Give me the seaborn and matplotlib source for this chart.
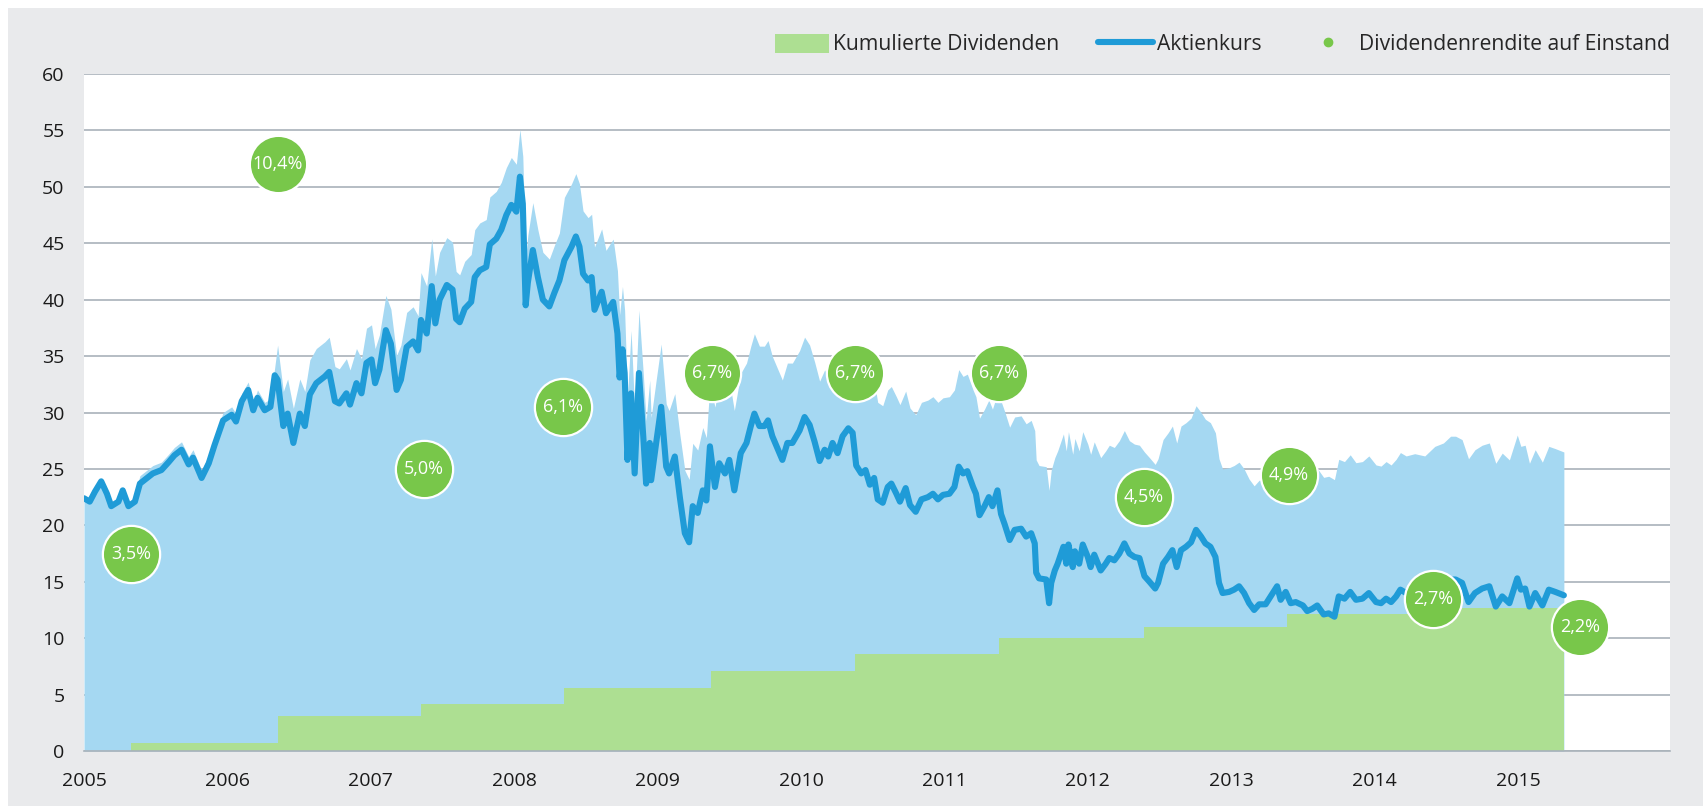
import numpy as np
import matplotlib
matplotlib.use("Agg")
import matplotlib.pyplot as plt
import seaborn as sns
from matplotlib.patches import Patch, Rectangle
from matplotlib.lines import Line2D

# Aktienkurs (Zeitpunkt als Dezimaljahr, Kurs)
kurs_t = [
    2005.0, 2005.04, 2005.077, 2005.12, 2005.16, 2005.19, 2005.24, 2005.27, 2005.31, 2005.355,
    2005.39, 2005.44, 2005.48, 2005.54, 2005.59, 2005.63, 2005.68, 2005.73, 2005.76, 2005.82,
    2005.87, 2005.91, 2005.97, 2006.03, 2006.06, 2006.10, 2006.145, 2006.18, 2006.21, 2006.26,
    2006.30, 2006.33, 2006.35, 2006.39, 2006.42, 2006.46, 2006.505, 2006.54, 2006.575, 2006.62,
    2006.68, 2006.71, 2006.75, 2006.78, 2006.83, 2006.855, 2006.90, 2006.935, 2006.97, 2007.005,
    2007.03, 2007.06, 2007.105, 2007.14, 2007.18, 2007.21, 2007.25, 2007.295, 2007.33, 2007.35,
    2007.39, 2007.425, 2007.45, 2007.48, 2007.53, 2007.57, 2007.595, 2007.62, 2007.655, 2007.70,
    2007.725, 2007.76, 2007.805, 2007.83, 2007.875, 2007.91, 2007.945, 2007.98, 2008.015, 2008.04,
    2008.06, 2008.08, 2008.095, 2008.13, 2008.165, 2008.20, 2008.245, 2008.28, 2008.315, 2008.35,
    2008.40, 2008.43, 2008.455, 2008.48, 2008.515, 2008.54, 2008.56, 2008.61, 2008.64, 2008.69,
    2008.72, 2008.735, 2008.755, 2008.77, 2008.79, 2008.815, 2008.84, 2008.87, 2008.90, 2008.92,
    2008.945, 2008.955, 2008.99, 2009.025, 2009.06, 2009.08, 2009.12, 2009.155, 2009.19, 2009.22,
    2009.245, 2009.28, 2009.315, 2009.34, 2009.365, 2009.40, 2009.43, 2009.47, 2009.50, 2009.535,
    2009.58, 2009.62, 2009.65, 2009.675, 2009.71, 2009.745, 2009.77, 2009.80, 2009.85, 2009.87,
    2009.905, 2009.94, 2009.99, 2010.025, 2010.06, 2010.095, 2010.13, 2010.165, 2010.19, 2010.22,
    2010.255, 2010.29, 2010.33, 2010.36, 2010.385, 2010.42, 2010.45, 2010.48, 2010.51, 2010.535,
    2010.57, 2010.605, 2010.63, 2010.665, 2010.69, 2010.73, 2010.76, 2010.80, 2010.84, 2010.885,
    2010.92, 2010.955, 2010.99, 2011.035, 2011.07, 2011.10, 2011.13, 2011.16, 2011.20, 2011.22,
    2011.245, 2011.28, 2011.31, 2011.335, 2011.37, 2011.395, 2011.42, 2011.455, 2011.49, 2011.535,
    2011.57, 2011.605, 2011.63, 2011.64, 2011.66, 2011.71, 2011.73, 2011.745, 2011.77, 2011.79,
    2011.83, 2011.85, 2011.865, 2011.895, 2011.91, 2011.94, 2011.965, 2012.0, 2012.02, 2012.045,
    2012.09, 2012.125, 2012.15, 2012.185, 2012.22, 2012.255, 2012.29, 2012.325, 2012.36, 2012.395,
    2012.43, 2012.47, 2012.49, 2012.525, 2012.56, 2012.59, 2012.62, 2012.65, 2012.685, 2012.72,
    2012.755, 2012.79, 2012.82, 2012.855, 2012.89, 2012.915, 2012.94, 2012.985, 2013.02, 2013.055,
    2013.09, 2013.125, 2013.16, 2013.195, 2013.24, 2013.275, 2013.32, 2013.345, 2013.38, 2013.415,
    2013.45, 2013.50, 2013.53, 2013.565, 2013.60, 2013.645, 2013.68, 2013.72, 2013.75, 2013.79,
    2013.83, 2013.87, 2013.915, 2013.96, 2014.01, 2014.045, 2014.08, 2014.115, 2014.15, 2014.18,
    2014.22, 2014.28, 2014.35, 2014.42, 2014.48, 2014.53, 2014.565, 2014.61, 2014.655, 2014.70,
    2014.75, 2014.80, 2014.845, 2014.89, 2014.94, 2014.995, 2015.02, 2015.05, 2015.08, 2015.12,
    2015.17, 2015.215, 2015.26, 2015.32,
]
kurs = [
    22.4, 22.1, 23.0, 23.9, 22.8, 21.7, 22.1, 23.1, 21.7, 22.1,
    23.7, 24.2, 24.6, 24.9, 25.6, 26.2, 26.7, 25.4, 26.0, 24.2,
    25.5, 27.1, 29.3, 29.8, 29.2, 31.0, 32.0, 30.2, 31.3, 30.2,
    30.5, 33.3, 32.9, 28.8, 29.9, 27.3, 29.9, 28.8, 31.6, 32.6,
    33.2, 33.6, 31.0, 30.8, 31.7, 30.7, 32.6, 31.7, 34.4, 34.7,
    32.6, 33.8, 37.3, 36.1, 32.0, 32.9, 35.8, 36.3, 35.5, 38.2,
    37.0, 41.2, 37.9, 40.0, 41.3, 40.9, 38.3, 38.0, 39.2, 39.8,
    42.0, 42.6, 42.9, 44.9, 45.4, 46.2, 47.5, 48.4, 47.8, 50.9,
    48.5, 39.5, 41.5, 44.4, 42.0, 40.0, 39.4, 40.6, 41.7, 43.5,
    44.7, 45.6, 44.7, 42.3, 41.7, 42.0, 39.1, 40.7, 38.8, 39.8,
    37.0, 33.1, 35.6, 33.5, 25.8, 31.7, 24.6, 33.5, 27.9, 23.7,
    27.3, 24.0, 27.3, 30.5, 25.2, 24.6, 26.1, 22.5, 19.3, 18.5,
    21.7, 21.1, 23.1, 22.2, 27.0, 23.4, 25.5, 24.6, 25.8, 23.1,
    26.4, 27.3, 28.8, 29.9, 28.8, 28.8, 29.3, 27.9, 26.4, 25.8,
    27.3, 27.3, 28.4, 29.6, 28.9, 27.4, 25.7, 26.7, 26.1, 27.3,
    26.4, 27.9, 28.6, 28.2, 25.3, 24.6, 24.9, 23.6, 24.2, 22.3,
    22.0, 23.4, 23.7, 22.8, 22.1, 23.3, 21.8, 21.2, 22.3, 22.5,
    22.8, 22.3, 22.7, 22.8, 23.4, 25.2, 24.6, 24.8, 23.4, 22.8,
    20.9, 21.7, 22.5, 21.7, 23.1, 21.0, 20.1, 18.7, 19.6, 19.7,
    19.0, 19.3, 18.4, 15.8, 15.3, 15.2, 13.1, 14.9, 16.0, 16.6,
    18.1, 16.6, 18.3, 16.3, 17.7, 16.6, 18.3, 17.2, 16.3, 17.4,
    16.0, 16.6, 17.1, 16.9, 17.5, 18.4, 17.5, 17.2, 17.1, 15.5,
    15.0, 14.4, 14.9, 16.6, 17.2, 17.8, 16.3, 17.8, 18.1, 18.5,
    19.6, 19.0, 18.4, 18.1, 17.2, 14.9, 14.0, 14.1, 14.3, 14.6,
    14.0, 13.1, 12.5, 13.0, 13.0, 13.7, 14.6, 13.4, 14.1, 13.1,
    13.2, 12.9, 12.4, 12.6, 12.9, 12.1, 12.2, 11.9, 13.7, 13.5,
    14.1, 13.4, 13.5, 14.0, 13.2, 13.1, 13.5, 13.2, 13.7, 14.3,
    14.0, 14.2, 14.0, 14.3, 14.6, 15.2, 15.2, 14.9, 13.2, 14.0,
    14.4, 14.6, 12.8, 13.7, 13.1, 15.3, 14.3, 14.4, 12.8, 14.0,
    12.9, 14.3, 14.1, 13.8,
]

# Kumulierte Dividenden (Stufen)
div_t = [2005.33, 2006.35, 2007.35, 2008.35, 2009.37, 2010.38, 2011.38, 2012.39, 2013.39, 2014.40, 2015.32]
div_kum = [0.7, 3.07, 4.2, 5.57, 7.08, 8.6, 10.0, 11.0, 12.15, 12.7, 12.7]

# Dividendenrendite auf Einstand
rendite_t = [2005.33, 2006.35, 2007.37, 2008.34, 2009.38, 2010.38, 2011.38, 2012.39, 2013.40, 2014.41, 2015.43]
rendite = [3.5, 10.4, 5.0, 6.1, 6.7, 6.7, 6.7, 4.5, 4.9, 2.7, 2.2]

jahre = list(range(2005, 2016))

hellblau = "#a5d8f2"
blau = "#1f9bd7"
gruen_flaeche = "#addf92"
gruen = "#78c74a"
grau_bg = "#e9eaec"
grid_col = "#a9b2ba"

sns.set_theme(style="white")
plt.rcParams["font.family"] = ["Open Sans", "DejaVu Sans"]

fig = plt.figure(figsize=(17.03, 8.06), dpi=100, facecolor="white")
fig.patches.append(Rectangle((8 / 1703, 0), 1, 1 - 8 / 806, transform=fig.transFigure,
                             facecolor=grau_bg, edgecolor="none", zorder=-10))

ax = fig.add_axes([84 / 1703, 1 - 751 / 806, (1670 - 84) / 1703, (751 - 74) / 806])
ax.set_facecolor("white")

t = np.array(kurs_t)
k = np.array(kurs)
idx = np.searchsorted(div_t, t, side="right") - 1
div_at_t = np.where(idx >= 0, np.array(div_kum)[np.clip(idx, 0, None)], 0.0)

# Gesamtwert (Kurs + kumulierte Dividenden) als hellblaue Fläche
ax.fill_between(t, 0, k + div_at_t, color=hellblau, lw=0, zorder=1)
ax.fill_between(div_t, 0, div_kum, step="post", color=gruen_flaeche, lw=0, zorder=2)

sns.lineplot(x=kurs_t, y=kurs, ax=ax, color=blau, lw=4.4, zorder=3,
             solid_joinstyle="round", solid_capstyle="round")

ax.set_xlim(2005.0, 2016.06)
ax.set_ylim(0, 60)
ax.set_yticks(range(0, 61, 5))
ax.set_xticks(jahre)
ax.set_xticklabels([str(j) for j in jahre])
ax.yaxis.grid(True, color=grid_col, lw=1.2)
ax.xaxis.grid(False)
ax.set_axisbelow(True)
for s in ["left", "right", "top"]:
    ax.spines[s].set_visible(False)
ax.spines["bottom"].set_color(grid_col)
ax.spines["bottom"].set_linewidth(1.2)
ax.spines["bottom"].set_zorder(4)
ax.tick_params(axis="both", length=0, labelsize=14, colors="#1a1a1a")
ax.tick_params(axis="y", pad=14)
ax.tick_params(axis="x", pad=15)
ax.set_xlabel("")
ax.set_ylabel("")

ax2 = ax.twinx()
ax2.set_ylim(0, 12)
ax2.axis("off")
sns.scatterplot(x=rendite_t, y=rendite, ax=ax2, s=1700, color=gruen,
                edgecolor="white", linewidth=1.6, zorder=5, clip_on=False)
for xv, yv in zip(rendite_t, rendite):
    ax2.text(xv, yv, f"{yv:.1f}%".replace(".", ","), ha="center", va="center",
             color="white", fontsize=13, zorder=6, clip_on=False)

handles = [
    Patch(facecolor=gruen_flaeche, edgecolor="none"),
    Line2D([0], [0], color=blau, lw=4.4),
    Line2D([0], [0], color=gruen, marker="o", markersize=6, linestyle="none"),
]
labels = ["Kumulierte Dividenden", "Aktienkurs", "Dividendenrendite auf Einstand"]
fig.legend(handles, labels, loc="center right", bbox_to_anchor=(1670 / 1703, 1 - 44.5 / 806),
           ncol=3, frameon=False, fontsize=15.2, handlelength=2.57, handleheight=1.0,
           handletextpad=0.2, columnspacing=1.85, borderaxespad=0, borderpad=0)

fig.savefig("out.png", dpi=100, facecolor=fig.get_facecolor())
